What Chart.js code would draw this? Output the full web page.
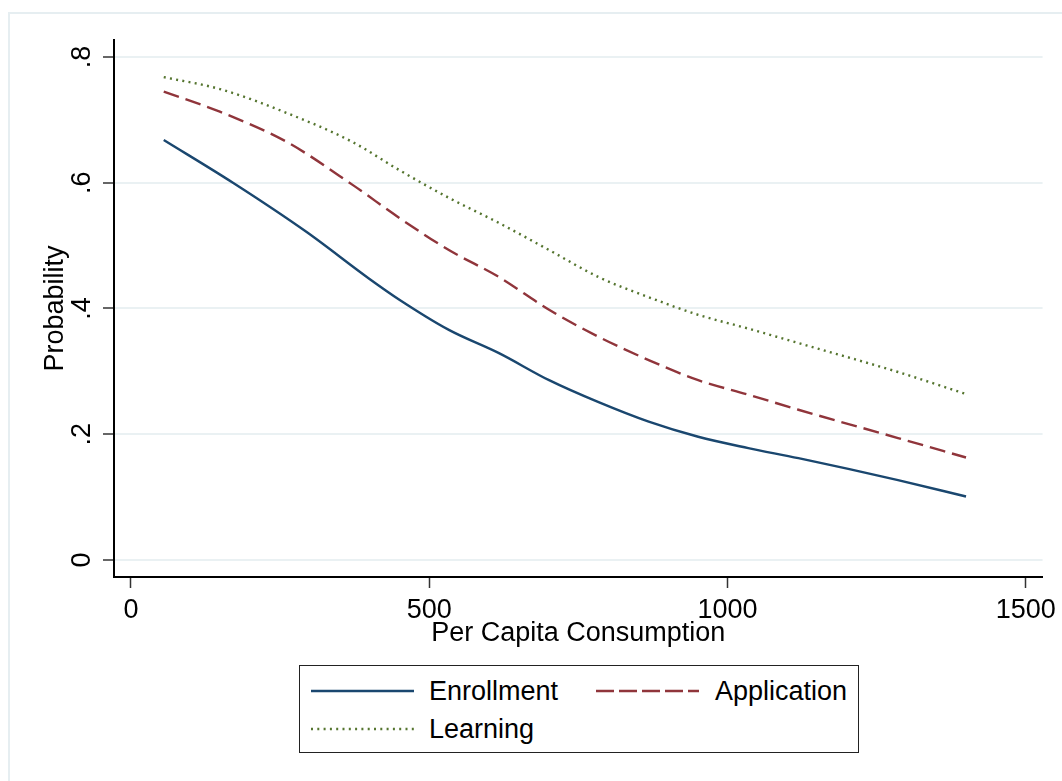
<!DOCTYPE html>
<html>
<head>
<meta charset="utf-8">
<script src="https://cdn.jsdelivr.net/npm/chart.js@4/dist/chart.umd.min.js"></script>
<style>
  html, body { margin: 0; padding: 0; background: #ffffff; }
  body { width: 1062px; height: 781px; position: relative; overflow: hidden; font-family: "Liberation Sans", Arial, sans-serif; }
  #frame { position: absolute; left: 8px; top: 12px; width: 1100px; height: 820px; border: 2px solid #e6eef1; box-sizing: border-box; }
  #wrap { position: absolute; left: 0; top: 0; width: 1062px; height: 781px; }
  #legend { position: absolute; left: 299px; top: 665px; width: 560px; height: 88px; border: 1.5px solid #222; box-sizing: border-box; background: #fff; }
  .lg-item { position: absolute; font-size: 27px; line-height: 30px; color: #000; white-space: nowrap; }
  .lg-line { position: absolute; }
</style>
</head>
<body>
<div id="frame"></div>
<div id="wrap"><canvas id="c" width="1062" height="781"></canvas></div>
<div id="legend"></div>
<script>
// ---- Data ----
const seriesNames = ["Enrollment", "Application", "Learning"];
const enrollmentX = [55, 171, 294, 400, 450, 533, 617, 701, 784, 868, 951, 1035, 1119, 1286, 1400];
const enrollmentY = [0.668, 0.600, 0.522, 0.447, 0.414, 0.366, 0.329, 0.286, 0.251, 0.220, 0.196, 0.178, 0.162, 0.127, 0.101];
const applicationX = [55, 149, 261, 371, 450, 533, 617, 701, 784, 868, 951, 1035, 1119, 1286, 1400];
const applicationY = [0.745, 0.713, 0.665, 0.597, 0.544, 0.493, 0.450, 0.398, 0.355, 0.318, 0.286, 0.263, 0.239, 0.194, 0.163];
const learningX = [55, 149, 261, 371, 450, 533, 617, 701, 784, 868, 951, 1035, 1119, 1286, 1400];
const learningY = [0.768, 0.749, 0.711, 0.665, 0.620, 0.576, 0.536, 0.493, 0.450, 0.418, 0.390, 0.368, 0.345, 0.299, 0.264];
const xTickValues = [0, 500, 1000, 1500];
const xTickLabels = ["0", "500", "1000", "1500"];
const yTickValues = [0, 0.2, 0.4, 0.6, 0.8];
const yTickLabels = ["0", ".2", ".4", ".6", ".8"];
const xTitle = "Per Capita Consumption";
const yTitle = "Probability";

const colors = ["#1a476f", "#90353b", "#55752f"];
const dashes = [[], [16, 7], [2, 4.3]];
const FONT = '"Liberation Sans", Arial, sans-serif';

function pts(xs, ys) { return xs.map((x, i) => ({ x: x, y: ys[i] })); }

const yLabelPlugin = {
  id: 'yLabels',
  afterDraw(chart) {
    const ctx = chart.ctx, s = chart.scales.y;
    ctx.save();
    ctx.fillStyle = '#000';
    ctx.font = '27px ' + FONT;
    ctx.textAlign = 'center';
    ctx.textBaseline = 'middle';
    yTickValues.forEach((v, i) => {
      const py = s.getPixelForValue(v);
      ctx.save();
      ctx.translate(83, py);
      ctx.rotate(-Math.PI / 2);
      ctx.fillText(yTickLabels[i], 0, 0);
      ctx.restore();
    });
    ctx.restore();
  }
};

new Chart(document.getElementById('c'), {
  type: 'line',
  data: {
    datasets: [
      { label: seriesNames[0], data: pts(enrollmentX, enrollmentY) },
      { label: seriesNames[1], data: pts(applicationX, applicationY) },
      { label: seriesNames[2], data: pts(learningX, learningY) }
    ].map((d, i) => Object.assign(d, {
      borderColor: colors[i], backgroundColor: colors[i], borderWidth: 2.4,
      borderDash: dashes[i], pointRadius: 0, fill: false,
      cubicInterpolationMode: 'monotone', borderCapStyle: 'butt'
    }))
  },
  options: {
    responsive: false,
    animation: false,
    events: [],
    layout: { padding: { left: 0, top: 40, right: 16, bottom: 120 } },
    plugins: { legend: { display: false }, tooltip: { enabled: false } },
    scales: {
      x: {
        type: 'linear', min: -28.4, max: 1528.3,
        afterBuildTicks(scale) { scale.ticks = xTickValues.map(v => ({ value: v })); },
        afterFit(scale) { scale.height = 84; },
        ticks: {
          autoSkip: false, maxRotation: 0, minRotation: 0, padding: 6, color: '#000',
          font: { family: FONT, size: 27 },
          callback(v) { const i = xTickValues.indexOf(v); return i >= 0 ? xTickLabels[i] : ''; }
        },
        grid: { display: true, drawOnChartArea: false, drawTicks: true, tickLength: 11, tickColor: '#333', tickWidth: 1.5 },
        border: { display: true, color: '#000', width: 2 },
        title: { display: true, text: xTitle, color: '#000', font: { family: FONT, size: 27 }, padding: { top: 0, bottom: 11 } }
      },
      y: {
        type: 'linear', min: -0.027, max: 0.827,
        afterBuildTicks(scale) { scale.ticks = yTickValues.map(v => ({ value: v })); },
        afterFit(scale) { scale.width = 114; },
        ticks: { display: false },
        grid: { display: true, drawOnChartArea: true, drawTicks: true, tickLength: 11, color: '#eaf1f3', lineWidth: 2, tickColor: '#333', tickWidth: 1.5 },
        border: { display: true, color: '#000', width: 2 },
        title: { display: true, text: yTitle, color: '#000', font: { family: FONT, size: 27 }, padding: { top: 39, bottom: 0 } }
      }
    }
  },
  plugins: [yLabelPlugin]
});

// ---- HTML legend ----
const legend = document.getElementById('legend');
const legendPos = [
  { lx: 11, tx: 129, cy: 25 },
  { lx: 296, tx: 415, cy: 25 },
  { lx: 11, tx: 129, cy: 63 }
];
seriesNames.forEach((name, i) => {
  const p = legendPos[i];
  const svgNS = 'http://www.w3.org/2000/svg';
  const svg = document.createElementNS(svgNS, 'svg');
  svg.setAttribute('width', '104'); svg.setAttribute('height', '6');
  svg.setAttribute('class', 'lg-line');
  svg.style.left = p.lx + 'px'; svg.style.top = (p.cy - 3) + 'px';
  const ln = document.createElementNS(svgNS, 'line');
  ln.setAttribute('x1', '0'); ln.setAttribute('y1', '3'); ln.setAttribute('x2', '103'); ln.setAttribute('y2', '3');
  ln.setAttribute('stroke', colors[i]); ln.setAttribute('stroke-width', '2.4');
  if (i === 1) ln.setAttribute('stroke-dasharray', '18 5');
  if (i === 2) ln.setAttribute('stroke-dasharray', '2 4.3');
  svg.appendChild(ln);
  legend.appendChild(svg);
  const t = document.createElement('div');
  t.className = 'lg-item';
  t.textContent = name;
  t.style.left = p.tx + 'px'; t.style.top = (p.cy - 15) + 'px';
  legend.appendChild(t);
});
</script>
</body>
</html>
